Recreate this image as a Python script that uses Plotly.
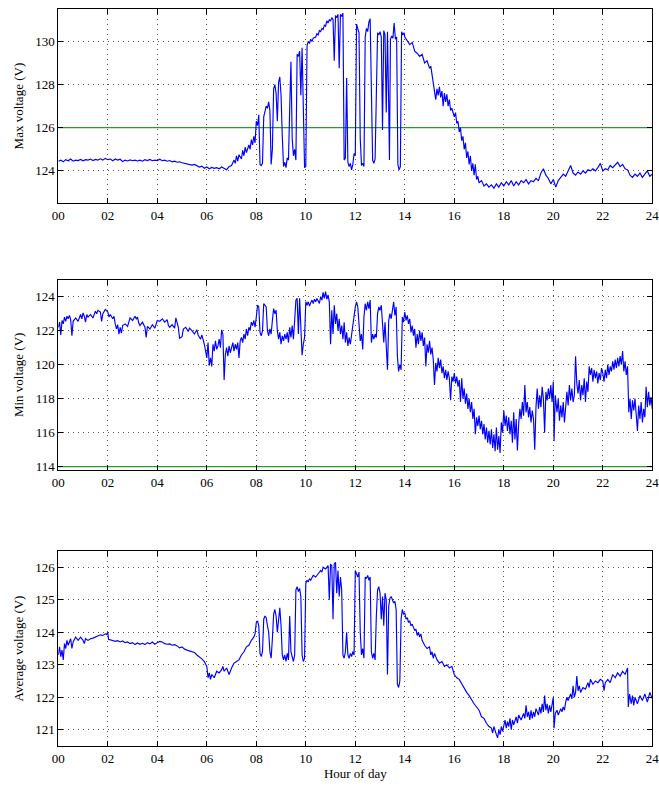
import plotly.graph_objects as go

# ---------------- data ----------------
hours_max = [0.00,0.10,0.20,0.30,0.40,0.50,0.60,0.70,0.80,0.90,1.00,1.10,1.20,1.30,1.40,1.50,1.60,1.70,1.80,1.90,
 2.00,2.10,2.20,2.30,2.40,2.50,2.60,2.70,2.80,2.90,3.00,3.10,3.20,3.30,3.40,3.50,3.60,3.70,3.80,3.90,
 4.00,4.10,4.20,4.30,4.40,4.50,4.60,4.70,4.80,4.90,5.00,5.10,5.20,5.30,5.40,5.50,5.60,5.70,5.80,5.90,
 6.00,6.10,6.20,6.30,6.40,6.50,6.60,6.70,6.80,6.90,7.00,7.10,7.15,7.20,7.25,7.30,7.40,7.45,7.50,7.55,
 7.60,7.70,7.75,7.80,7.85,7.90,7.95,8.00,8.05,8.10,8.15,8.20,8.25,8.30,8.35,8.40,8.45,8.50,8.55,8.60,
 8.65,8.70,8.75,8.80,8.85,8.90,8.95,9.00,9.05,9.10,9.15,9.20,9.25,9.30,9.35,9.40,9.45,9.50,9.55,9.60,
 9.65,9.70,9.75,9.80,9.85,9.90,9.95,10.00,10.05,10.10,10.15,10.20,10.25,10.30,10.40,10.45,10.50,10.55,10.60,10.65,
 10.70,10.75,10.80,10.85,10.90,10.95,11.00,11.05,11.10,11.15,11.20,11.25,11.30,11.35,11.40,11.45,11.50,11.55,11.60,11.65,
 11.70,11.75,11.80,11.85,11.90,11.95,12.00,12.05,12.10,12.15,12.20,12.25,12.30,12.35,12.40,12.45,12.50,12.55,12.60,12.65,
 12.70,12.75,12.80,12.85,12.90,12.95,13.00,13.05,13.10,13.15,13.20,13.25,13.30,13.35,13.38,13.42,13.47,13.52,13.57,13.62,
 13.67,13.72,13.77,13.82,13.87,13.92,13.97,14.00,14.10,14.20,14.30,14.40,14.50,14.60,14.70,14.80,14.90,15.00,15.05,15.10,
 15.15,15.20,15.25,15.30,15.35,15.40,15.45,15.50,15.55,15.60,15.65,15.70,15.75,15.80,15.85,15.90,16.00,16.05,16.10,16.15,
 16.20,16.25,16.30,16.35,16.40,16.45,16.50,16.55,16.60,16.65,16.70,16.75,16.80,16.85,16.90,16.95,17.00,17.10,17.20,17.30,
 17.40,17.50,17.60,17.70,17.80,17.90,18.00,18.10,18.20,18.30,18.40,18.50,18.60,18.70,18.80,18.90,19.00,19.10,19.20,19.30,
 19.40,19.50,19.60,19.70,19.80,19.90,20.00,20.10,20.20,20.30,20.40,20.50,20.60,20.70,20.80,20.90,21.00,21.10,21.20,21.30,
 21.40,21.50,21.60,21.70,21.80,21.90,22.00,22.10,22.20,22.30,22.40,22.50,22.60,22.70,22.80,22.90,23.00,23.10,23.20,23.30,
 23.40,23.50,23.60,23.70,23.80,23.90,24.00]
max_voltage = [124.45,124.50,124.42,124.52,124.47,124.55,124.45,124.50,124.48,124.53,124.47,124.52,124.50,124.55,124.48,124.53,124.50,124.56,124.50,124.58,
 124.52,124.55,124.47,124.55,124.50,124.54,124.43,124.50,124.46,124.51,124.47,124.50,124.46,124.50,124.45,124.52,124.48,124.53,124.47,124.50,
 124.48,124.54,124.47,124.50,124.45,124.48,124.42,124.45,124.40,124.42,124.38,124.36,124.33,124.30,124.27,124.30,124.22,124.18,124.22,124.12,
 124.18,124.10,124.16,124.12,124.15,124.10,124.18,124.12,124.05,124.20,124.25,124.50,124.35,124.70,124.45,124.75,124.55,124.95,124.70,125.10,
 124.85,125.20,125.00,125.45,125.20,125.60,125.30,126.30,126.10,126.60,124.30,124.25,124.35,126.50,126.70,127.00,126.90,127.20,126.80,124.30,
 125.00,127.80,128.00,127.60,126.30,128.10,128.35,127.50,125.60,124.20,124.40,124.15,124.60,124.50,126.90,129.05,125.50,124.70,125.00,124.50,
 129.40,129.30,129.55,127.50,129.70,125.80,124.15,124.20,129.80,130.00,129.90,130.10,130.00,130.15,130.20,130.35,130.30,130.50,130.45,130.60,
 130.55,130.75,130.70,130.95,130.85,131.00,130.95,131.10,131.00,129.10,131.20,131.10,131.25,128.75,131.25,131.15,131.30,124.50,124.60,128.30,
 124.40,124.20,124.35,124.05,124.30,124.80,124.70,130.80,130.55,130.40,125.50,124.25,124.35,124.20,130.20,130.60,130.45,130.90,131.05,126.50,
 124.50,124.35,124.55,127.50,130.40,130.30,130.45,130.20,125.90,130.50,130.30,126.70,130.45,127.00,124.50,130.10,130.25,130.15,130.85,130.10,
 130.20,124.30,124.05,124.20,130.45,130.30,130.40,130.20,130.05,129.85,129.95,129.55,129.45,129.30,129.40,129.00,129.10,128.75,128.85,128.40,
 128.00,127.60,127.30,127.80,127.50,127.90,127.40,127.70,127.00,127.60,127.20,127.55,127.00,127.30,126.80,126.90,126.50,126.70,126.20,126.30,
 125.80,126.00,125.40,125.60,125.00,125.30,124.60,124.90,124.30,124.70,124.00,124.35,123.80,124.30,123.60,123.75,123.45,123.55,123.30,123.40,
 123.25,123.35,123.20,123.40,123.25,123.45,123.30,123.50,123.35,123.55,123.30,123.50,123.35,123.55,123.45,123.60,123.40,123.55,123.50,123.65,
 123.55,123.90,124.10,123.80,123.65,123.40,123.60,123.25,123.55,123.70,123.85,123.75,124.00,124.25,123.90,123.80,123.95,123.85,124.00,123.90,
 124.05,124.00,124.10,124.00,124.15,124.35,124.00,124.10,124.05,124.25,124.15,124.30,124.40,124.20,124.30,124.10,124.05,123.80,123.70,123.85,
 123.75,123.90,123.70,123.85,124.00,123.75,123.85]

hours_min = [0.00,0.05,0.10,0.15,0.20,0.25,0.30,0.35,0.40,0.45,0.50,0.55,0.60,0.70,0.80,0.90,0.95,1.00,1.05,1.10,
 1.15,1.20,1.30,1.40,1.50,1.55,1.60,1.70,1.75,1.80,1.90,2.00,2.05,2.10,2.20,2.25,2.30,2.35,2.40,2.45,
 2.50,2.55,2.60,2.70,2.80,2.90,3.00,3.10,3.15,3.20,3.25,3.30,3.40,3.50,3.55,3.60,3.70,3.80,3.90,4.00,
 4.10,4.20,4.30,4.40,4.45,4.50,4.60,4.70,4.75,4.85,4.90,5.00,5.05,5.15,5.25,5.30,5.40,5.50,5.60,5.65,
 5.75,5.80,5.90,5.95,6.00,6.05,6.10,6.15,6.20,6.25,6.30,6.35,6.40,6.45,6.50,6.55,6.60,6.65,6.70,6.75,
 6.80,6.85,6.90,6.95,7.00,7.05,7.10,7.15,7.20,7.25,7.30,7.35,7.40,7.45,7.50,7.55,7.60,7.65,7.70,7.75,
 7.80,7.85,7.90,7.95,8.00,8.05,8.10,8.15,8.20,8.25,8.30,8.35,8.40,8.45,8.50,8.55,8.60,8.65,8.70,8.75,
 8.80,8.85,8.90,8.95,9.00,9.05,9.10,9.15,9.20,9.25,9.30,9.35,9.40,9.45,9.50,9.55,9.60,9.65,9.70,9.75,
 9.80,9.85,9.90,9.95,10.00,10.05,10.10,10.15,10.20,10.25,10.30,10.35,10.40,10.45,10.50,10.55,10.60,10.65,10.70,10.75,
 10.80,10.85,10.90,10.95,11.00,11.05,11.10,11.15,11.20,11.25,11.30,11.35,11.40,11.45,11.50,11.55,11.60,11.65,11.70,11.75,
 11.80,11.85,11.90,11.95,12.00,12.05,12.10,12.15,12.20,12.25,12.30,12.35,12.40,12.45,12.50,12.55,12.60,12.65,12.70,12.75,
 12.80,12.85,12.90,12.95,13.00,13.05,13.10,13.15,13.20,13.25,13.30,13.35,13.40,13.45,13.50,13.55,13.60,13.65,13.70,13.75,
 13.80,13.85,13.90,13.95,14.00,14.05,14.10,14.15,14.20,14.25,14.30,14.35,14.40,14.45,14.50,14.55,14.60,14.65,14.70,14.75,
 14.80,14.85,14.90,14.95,15.00,15.05,15.10,15.15,15.20,15.25,15.30,15.35,15.40,15.45,15.50,15.55,15.60,15.65,15.70,15.75,
 15.80,15.85,15.90,15.95,16.00,16.05,16.10,16.15,16.20,16.25,16.30,16.35,16.40,16.45,16.50,16.55,16.60,16.65,16.70,16.75,
 16.80,16.85,16.90,16.95,17.00,17.05,17.10,17.15,17.20,17.25,17.30,17.35,17.40,17.45,17.50,17.55,17.60,17.65,17.70,17.75,
 17.80,17.85,17.90,17.95,18.00,18.05,18.10,18.15,18.20,18.25,18.30,18.35,18.40,18.45,18.50,18.55,18.60,18.65,18.70,18.75,
 18.80,18.85,18.90,18.95,19.00,19.05,19.10,19.15,19.20,19.25,19.30,19.35,19.40,19.45,19.50,19.55,19.60,19.65,19.70,19.75,
 19.80,19.85,19.90,19.95,20.00,20.03,20.08,20.15,20.20,20.25,20.30,20.35,20.40,20.45,20.50,20.55,20.60,20.65,20.70,20.75,
 20.80,20.85,20.90,20.95,21.00,21.05,21.10,21.15,21.20,21.25,21.30,21.35,21.40,21.45,21.50,21.55,21.60,21.65,21.70,21.75,
 21.80,21.85,21.90,21.95,22.00,22.05,22.10,22.15,22.20,22.25,22.30,22.35,22.40,22.45,22.50,22.55,22.60,22.65,22.70,22.75,
 22.80,22.85,22.90,22.95,23.00,23.05,23.10,23.15,23.20,23.25,23.30,23.35,23.40,23.45,23.50,23.55,23.60,23.65,23.70,23.75,
 23.80,23.85,23.90,23.95,24.00]
min_voltage = [122.20,122.50,121.75,122.60,122.40,122.80,122.55,122.85,122.70,122.90,122.65,121.70,122.55,122.75,122.55,122.95,122.70,123.05,122.85,122.50,
 122.95,122.80,122.95,122.75,123.15,123.00,123.20,123.10,122.55,123.00,123.25,123.10,122.80,122.95,122.70,122.85,122.40,122.10,122.35,121.80,
 122.20,121.85,122.30,122.40,122.25,122.75,122.60,122.85,122.70,122.80,122.45,122.30,122.50,122.20,121.60,122.25,122.10,122.35,122.15,122.60,
 122.55,122.70,122.50,122.65,122.30,122.20,122.35,122.15,122.75,122.20,121.55,121.65,122.10,122.20,121.95,122.15,122.00,121.80,122.05,121.75,
 121.50,121.75,121.20,120.80,120.40,121.30,119.95,120.40,119.90,121.20,120.80,121.40,120.90,121.10,121.50,121.00,122.05,121.80,119.10,120.60,
 121.00,120.50,121.10,120.70,121.00,121.30,120.80,121.20,120.90,121.30,120.40,121.40,121.60,121.30,121.80,121.50,122.10,121.70,122.20,122.00,
 122.50,122.30,122.60,122.20,122.80,123.50,123.40,121.90,121.70,122.00,123.60,123.50,123.40,122.00,121.70,122.10,121.80,122.60,123.30,123.00,
 123.20,122.00,121.50,121.90,121.20,121.70,121.40,121.80,121.50,121.90,121.30,122.20,121.60,122.30,121.50,122.60,123.80,123.90,121.80,123.90,
 121.60,120.55,121.20,121.60,123.70,123.50,123.70,123.45,123.65,123.80,123.60,123.85,123.70,123.90,123.75,123.60,124.00,123.80,124.25,123.90,
 124.30,123.85,124.10,123.70,121.20,123.20,121.80,123.50,122.40,123.00,122.00,122.70,121.80,122.30,121.50,122.50,121.30,121.90,121.10,121.60,
 121.20,121.80,122.40,122.90,123.40,123.70,123.40,122.40,121.40,121.80,120.90,122.80,123.60,123.20,123.70,123.30,123.80,121.30,121.80,121.50,
 121.80,121.60,123.00,123.40,123.20,123.50,122.00,121.30,122.50,121.00,119.70,122.60,123.00,122.70,123.20,123.70,122.90,123.40,120.50,119.60,
 120.00,119.70,122.80,122.50,123.10,122.60,122.90,122.40,122.70,121.90,122.30,121.70,122.10,121.00,121.80,121.20,122.00,121.40,121.90,121.10,
 121.60,119.90,121.20,120.70,121.40,120.60,121.00,120.30,118.80,120.10,119.60,120.40,119.80,120.30,119.50,119.90,119.20,119.70,119.10,119.60,
 119.20,117.90,119.30,119.00,119.50,118.90,119.30,118.70,119.10,117.80,119.20,118.00,118.60,117.70,118.30,117.40,118.00,117.20,117.80,116.80,
 117.40,115.90,116.90,116.40,117.00,116.20,116.70,115.90,116.50,115.60,116.30,115.40,116.10,115.30,116.20,115.10,115.90,114.90,116.30,115.00,
 115.80,114.80,116.60,116.00,117.30,116.40,117.00,116.10,116.90,115.90,116.70,115.40,117.20,115.60,116.80,114.95,116.50,117.40,116.80,117.80,
 117.00,118.80,117.20,117.80,116.90,117.50,116.60,117.30,116.80,115.00,117.50,118.60,117.40,118.20,117.50,118.70,118.00,116.00,118.40,117.90,
 118.60,118.00,118.80,117.80,119.00,115.50,118.20,117.20,118.00,116.70,117.60,116.90,117.80,116.60,117.50,118.40,117.60,118.80,117.90,118.60,
 117.80,118.20,120.50,118.90,118.30,119.10,117.90,118.80,118.20,119.20,117.80,119.00,118.40,119.90,119.40,119.80,119.00,119.70,119.20,119.60,
 118.90,119.50,119.10,119.80,119.50,119.00,119.70,119.20,120.00,119.40,119.90,119.60,120.20,119.70,120.30,119.80,120.40,119.90,120.50,120.00,
 120.80,119.60,120.20,119.40,119.90,117.20,118.00,116.80,117.90,117.30,118.00,117.00,116.10,117.60,116.80,117.80,116.60,117.40,116.90,118.70,
 117.50,118.40,117.60,118.10,117.40]

hours_avg = [0.00,0.05,0.10,0.15,0.20,0.25,0.30,0.35,0.40,0.50,0.55,0.60,0.70,0.80,0.90,1.00,1.05,1.10,1.20,1.30,
 1.40,1.50,1.60,1.70,1.80,1.90,1.95,2.00,2.03,2.10,2.20,2.30,2.40,2.50,2.60,2.70,2.80,2.90,3.00,3.10,
 3.20,3.30,3.40,3.50,3.60,3.70,3.80,3.90,4.00,4.10,4.20,4.30,4.40,4.50,4.60,4.70,4.80,4.90,5.00,5.10,
 5.20,5.30,5.40,5.50,5.60,5.70,5.80,5.90,6.00,6.05,6.10,6.15,6.20,6.30,6.40,6.50,6.60,6.65,6.70,6.80,
 6.90,7.00,7.10,7.20,7.30,7.40,7.50,7.60,7.70,7.80,7.90,7.95,8.00,8.05,8.10,8.15,8.20,8.25,8.30,8.35,
 8.40,8.45,8.50,8.55,8.60,8.65,8.70,8.75,8.80,8.85,8.90,8.95,9.00,9.05,9.10,9.15,9.20,9.25,9.30,9.35,
 9.40,9.45,9.50,9.55,9.60,9.65,9.70,9.75,9.80,9.85,9.90,9.95,10.00,10.05,10.10,10.15,10.20,10.30,10.40,10.50,
 10.60,10.65,10.70,10.80,10.90,10.95,11.00,11.05,11.10,11.15,11.20,11.25,11.30,11.35,11.40,11.45,11.50,11.55,11.60,11.65,
 11.70,11.75,11.80,11.85,11.90,11.95,12.00,12.05,12.10,12.15,12.20,12.25,12.30,12.35,12.40,12.45,12.50,12.55,12.60,12.65,
 12.70,12.75,12.80,12.85,12.90,12.95,13.00,13.05,13.10,13.15,13.20,13.25,13.30,13.35,13.40,13.45,13.50,13.55,13.60,13.65,
 13.70,13.75,13.80,13.85,13.90,13.95,14.00,14.05,14.10,14.15,14.20,14.25,14.30,14.40,14.45,14.50,14.55,14.60,14.65,14.70,
 14.80,14.90,15.00,15.05,15.10,15.15,15.20,15.30,15.40,15.50,15.60,15.70,15.80,15.90,16.00,16.10,16.20,16.30,16.40,16.50,
 16.60,16.70,16.80,16.90,17.00,17.10,17.20,17.30,17.40,17.50,17.55,17.60,17.65,17.70,17.75,17.80,17.85,17.90,17.95,18.00,
 18.05,18.10,18.15,18.20,18.25,18.30,18.35,18.40,18.50,18.55,18.60,18.70,18.80,18.85,18.90,18.95,19.00,19.05,19.10,19.15,
 19.20,19.25,19.30,19.40,19.45,19.50,19.55,19.60,19.65,19.70,19.75,19.80,19.85,19.90,19.95,20.00,20.03,20.08,20.15,20.20,
 20.30,20.35,20.40,20.45,20.50,20.55,20.60,20.70,20.75,20.80,20.85,20.90,20.95,21.00,21.05,21.10,21.20,21.30,21.40,21.45,
 21.50,21.60,21.70,21.80,21.90,22.00,22.05,22.10,22.20,22.30,22.40,22.50,22.60,22.70,22.80,22.90,23.00,23.03,23.08,23.15,
 23.20,23.25,23.30,23.40,23.50,23.60,23.70,23.80,23.90,24.00]
avg_voltage = [123.30,123.55,123.25,123.45,123.15,123.65,123.50,123.75,123.60,123.80,123.50,123.70,123.85,123.75,123.85,123.75,123.65,123.80,123.75,123.80,
 123.82,123.85,123.88,123.92,123.90,123.95,123.93,124.00,123.78,123.77,123.75,123.72,123.74,123.70,123.73,123.68,123.70,123.65,123.68,123.62,
 123.67,123.63,123.66,123.62,123.68,123.64,123.70,123.63,123.68,123.72,123.70,123.65,123.63,123.64,123.60,123.62,123.58,123.52,123.55,123.48,
 123.45,123.42,123.40,123.38,123.30,123.25,123.18,123.10,122.95,122.60,122.75,122.55,122.70,122.60,122.80,122.75,122.85,122.95,122.80,122.90,
 122.70,122.90,123.05,123.10,123.15,123.30,123.40,123.55,123.60,123.75,123.85,123.95,124.30,124.35,124.20,123.35,123.25,123.40,124.40,124.50,
 124.45,124.20,124.00,123.40,123.20,123.80,124.55,124.70,124.50,124.00,124.50,124.75,124.20,123.30,123.15,123.30,123.10,123.35,123.15,124.50,
 123.40,123.20,123.10,123.30,125.30,125.40,125.25,125.35,125.10,123.30,123.10,123.20,125.50,125.60,125.55,125.65,125.60,125.75,125.70,125.80,
 125.90,125.85,126.00,125.95,126.05,125.00,126.10,126.05,124.40,126.10,126.15,125.20,125.90,125.10,125.70,125.30,123.30,123.20,123.40,124.00,
 123.30,123.20,123.35,123.25,123.40,123.30,125.90,125.80,125.70,125.85,124.00,123.30,123.50,123.20,125.70,125.65,125.75,125.60,125.70,123.40,
 123.20,123.35,123.15,124.50,125.30,125.40,125.20,124.40,125.10,124.20,125.20,125.00,122.70,124.80,125.05,125.10,125.00,124.90,124.95,124.70,
 122.40,122.30,122.50,124.40,124.70,124.55,124.60,124.40,124.45,124.30,124.35,124.20,124.25,124.05,124.10,123.90,124.00,123.85,123.95,123.75,
 123.60,123.50,123.55,123.30,123.40,123.20,123.35,123.15,123.05,123.10,122.95,123.00,122.90,122.95,122.70,122.60,122.55,122.40,122.25,122.15,
 122.05,121.90,121.80,121.70,121.60,121.40,121.35,121.20,121.10,121.05,120.90,121.10,120.95,120.85,120.75,121.00,120.85,121.10,120.95,121.20,
 121.30,121.05,121.25,121.10,121.35,121.00,121.30,121.15,121.40,121.20,121.45,121.30,121.50,121.35,121.75,121.40,121.55,121.30,121.60,121.35,
 121.55,121.40,121.65,121.45,121.70,121.50,121.80,121.55,122.05,121.60,121.80,121.50,121.75,121.55,121.85,122.00,121.05,121.50,121.60,121.45,
 121.65,121.55,121.70,121.60,121.85,122.00,121.90,122.10,121.95,122.35,122.00,122.15,122.65,122.20,122.35,122.15,122.30,122.25,122.45,122.30,
 122.55,122.40,122.50,122.45,122.55,122.50,122.20,122.45,122.55,122.45,122.70,122.60,122.75,122.65,122.80,122.70,122.90,121.70,122.10,121.80,
 122.05,121.75,122.00,121.80,122.05,121.90,122.10,121.85,122.15,121.95]

max_limit = 126
min_limit = 114

x_ticks = [0, 2, 4, 6, 8, 10, 12, 14, 16, 18, 20, 22, 24]
x_tick_labels = ["00", "02", "04", "06", "08", "10", "12", "14", "16", "18", "20", "22", "24"]
y_ticks_max = [124, 126, 128, 130]
y_ticks_min = [114, 116, 118, 120, 122, 124]
y_ticks_avg = [121, 122, 123, 124, 125, 126]

# ---------------- figure ----------------
BLUE = "#0000ff"
GREEN = "#2a9a2a"
FONT = "Liberation Serif"
FIG_W = 672   # slightly wider than the window so the "24" label fits; page clipped at 659
FIG_H = 787

fig = go.Figure()
panels = [
    (hours_max, max_voltage, max_limit, "x", "y"),
    (hours_min, min_voltage, min_limit, "x2", "y2"),
    (hours_avg, avg_voltage, None, "x3", "y3"),
]
for hrs, vals, lim, xa, ya in panels:
    if lim is not None:
        fig.add_trace(go.Scatter(x=[0, 24], y=[lim, lim], mode="lines",
                                 line=dict(color=GREEN, width=1.2),
                                 xaxis=xa, yaxis=ya, showlegend=False, hoverinfo="skip"))
    fig.add_trace(go.Scatter(x=hrs, y=vals, mode="lines",
                             line=dict(color=BLUE, width=1.15),
                             xaxis=xa, yaxis=ya, showlegend=False))

x_dom = [58.3 / FIG_W, 652.3 / FIG_W]
y_doms = [[0.7417, 0.9886], [0.4028, 0.6446], [0.0521, 0.2999]]
y_ranges = [[122.5, 131.5], [113.8, 125.0], [120.5, 126.5]]
y_tickss = [y_ticks_max, y_ticks_min, y_ticks_avg]
y_titles = ["Max voltage (V)", "Min voltage (V)", "Average voltage (V)"]

common = dict(showline=True, linecolor="black", linewidth=1, mirror="allticks",
              ticks="inside", ticklen=5, tickcolor="black", automargin=False,
              showgrid=True, gridcolor="#555555", griddash="1px,4px", gridwidth=1,
              zeroline=False, tickfont=dict(family=FONT, size=13, color="black"))

layout = dict(width=FIG_W, height=FIG_H, margin=dict(l=0, r=0, t=0, b=0, autoexpand=False),
              paper_bgcolor="white", plot_bgcolor="white",
              font=dict(family=FONT, size=13, color="black"))
for i in range(3):
    sx = "" if i == 0 else str(i + 1)
    layout["xaxis" + sx] = dict(common, domain=x_dom, range=[0, 24], tickvals=x_ticks,
                                ticktext=x_tick_labels, anchor="y" + sx)
    layout["yaxis" + sx] = dict(common, domain=y_doms[i], range=y_ranges[i], tickvals=y_tickss[i],
                                anchor="x" + sx,
                                title=dict(text=y_titles[i], font=dict(family=FONT, size=13), standoff=8))
layout["xaxis3"]["title"] = dict(text="Hour of day", font=dict(family=FONT, size=13), standoff=2)
fig.update_layout(**layout)

fig.write_html("out.html", config={"displayModeBar": False},
               post_script=["document.body.style.margin='0';document.body.style.overflow='hidden';"])
